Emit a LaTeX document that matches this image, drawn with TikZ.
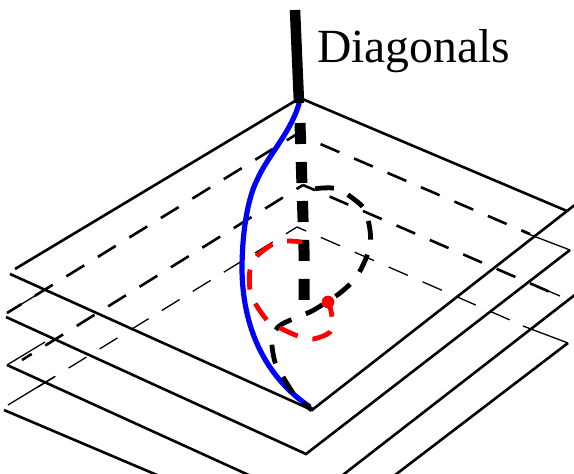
\documentclass[tikz,border=0pt]{standalone}
\usepackage{fontspec}
\setmainfont{Liberation Serif}
\tikzset{
  planeline/.style={line width=2.6pt,black},
  backleft/.style={line width=2.6pt,black,dash pattern=on 21pt off 16pt},
  backright/.style={line width=2.6pt,black,dash pattern=on 20.4pt off 16pt},
  thinleft/.style={line width=1.3pt,black,dash pattern=on 21pt off 15.5pt},
  thinright/.style={line width=1.3pt,black,dash pattern=on 21pt off 16pt},
  cornerthin/.style={line width=1.3pt,black},
  spike/.style={line width=10.5pt,black},
  bluecurve/.style={line width=5.2pt,blue},
  blackdash/.style={line width=4.8pt,black,dash pattern=on 19pt off 15.5pt},
  reddash/.style={line width=4.8pt,red,dash pattern=on 20pt off 15pt},
  spikedash/.style={line width=11pt,black,dash pattern=on 21pt off 18pt},
  lbl/.style={font=\fontsize{47.6pt}{50pt}\selectfont,inner sep=0pt,anchor=base west}
}
\begin{document}
\begin{tikzpicture}[x=1pt,y=-1pt]
\useasboundingbox (0,0) rectangle (574,474);
\clip (0,0) rectangle (574,474);
% named corners
\coordinate (A1) at (300,98);  \coordinate (R1) at (567,211);
\coordinate (B1) at (312,410); \coordinate (L1) at (10,274);
\coordinate (L1b) at (15,269); \coordinate (R1x) at (576,204);
\coordinate (A2) at (297,134); \coordinate (R2) at (570,250);
\coordinate (B2) at (306,454); \coordinate (L2) at (6,317);
\coordinate (L2b) at (7,313);
\coordinate (A3) at (303,185); \coordinate (R3) at (568,300);
\coordinate (B3) at (308,502); \coordinate (L3) at (7,365);
\coordinate (R3x) at (576,294);
\coordinate (A4) at (297,227); \coordinate (R4) at (568,343);
\coordinate (B4) at (310,540); \coordinate (L4) at (4,410);
\coordinate (L4b) at (8,405);
% back edges of the lower planes
\draw[backleft,dash phase=9pt] (A2) -- (L2b);
\draw[backright,dash phase=10.7pt] (A2) -- (530,234);
\draw[cornerthin] (L2b) -- (38,294);
\draw[cornerthin] (523,232) -- (R2);
\draw[backleft,dash phase=13.4pt] (A3) -- (22,360);
\draw[backright,dash phase=7.4pt] (A3) -- (550,292);
\draw[cornerthin] (L3) -- (45,342);
\draw[cornerthin] (532,284) -- (560,296);
\draw[thinleft,dash phase=8pt] (A4) -- (38,387);
\draw[thinright,dash phase=11pt] (A4) -- (510,320);
\draw[cornerthin] (L4b) -- (54,377);
\draw[cornerthin] (523,326) -- (R4);
% solid edges
\draw[planeline] (L1b) -- (A1) -- (R1);
\draw[planeline] (L1) -- (B1) -- (R1x);
\draw[planeline] (L2) -- (B2) -- (R2);
\draw[planeline] (L3) -- (B3) -- (R3x);
\draw[planeline] (L4) -- (B4) -- (R4);
% blue path
\draw[bluecurve] (300,100) .. controls (293,130) and (268,155) .. (257,180)
  .. controls (247,200) and (242,235) .. (242,270)
  .. controls (243,335) and (270,380) .. (310,407);
% diagonal
\draw[spike] (295,10) -- (299,103);
\draw[spikedash] (300,123) -- (304,250) -- (304,300);
% black path
\draw[blackdash] (312,410) -- (303,403);
\draw[blackdash] plot[smooth,tension=0.5] coordinates {(293,393) (283,377) (275,362) (272,342) (278,327) (295,318) (310,312) (322,305) (340,293) (355,279) (363,265) (370,247) (370,230) (365,210) (355,200) (338,189) (322,188) (308,190)};
% red path
\draw[reddash,dash phase=6pt] plot[smooth,tension=0.5] coordinates {(329,303) (332,317) (330,332) (313,339) (298,336) (280,328) (267,320) (255,303) (250,290) (250,270) (257,256) (273,244) (287,241) (302,242)};
\fill[red] (328,302) circle (6.3pt);
\node[lbl] (label) at (317,62) {Diagonals};
\end{tikzpicture}
\end{document}
